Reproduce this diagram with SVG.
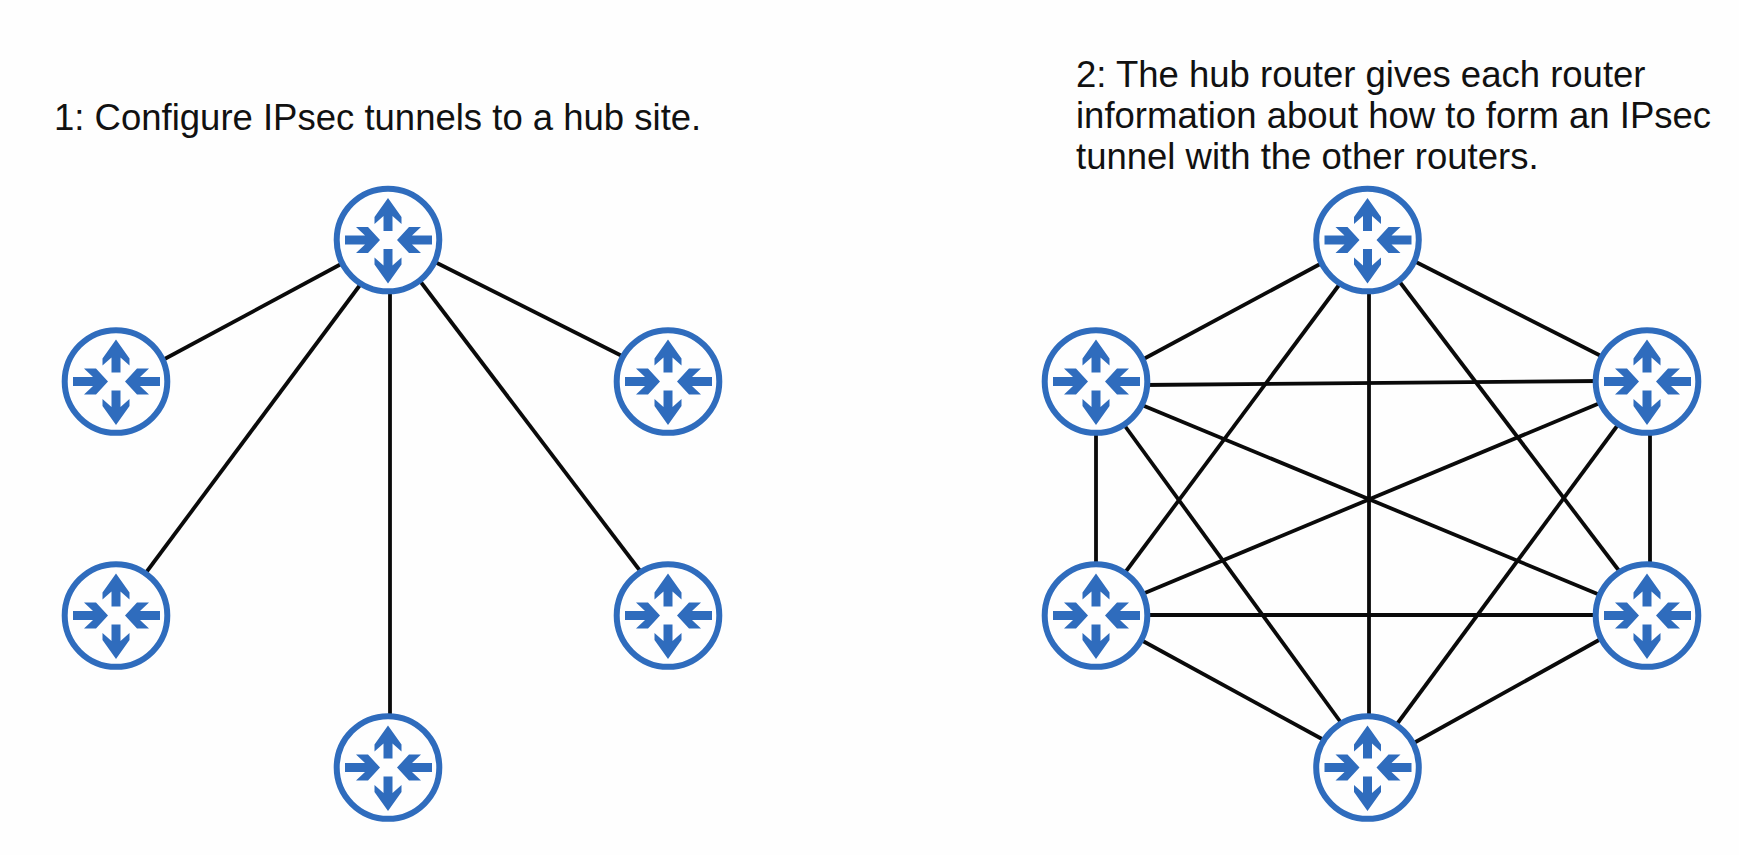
<svg xmlns="http://www.w3.org/2000/svg" width="1739" height="855" viewBox="0 0 1739 855">
<style>
.bg{fill:#fefefe}
.t{font-family:"Liberation Sans",Arial,sans-serif;font-size:36.500px;fill:#111}
.ring{fill:#fefefe;stroke:#2f6cbd;stroke-width:6}
.arr{fill:#2f6cbd}
.links line{stroke:#0a0a0a;stroke-width:3.8;fill:none}
</style>
<defs>
<g id="router">
<circle class="ring" r="51.3"/>
<path class="arr" d="M0-42 13.500-23V-16L4.500-24V-9H-4.500V-24L-13.500-16V-23Z"/>
<path class="arr" d="M0 43.500 13.500 24.500V17.500L4.500 25.500V9H-4.500V25.500L-13.500 17.500V24.500Z"/>
<path class="arr" d="M-8 0-20-13H-32L-23-4.500H-43V4.500H-23L-32 13H-20Z"/>
<path class="arr" d="M9 0 21-13H33L24-4.500H44V4.500H24L33 13H21Z"/>
</g>
</defs>
<rect class="bg" width="1739" height="855"/>
<text id="label-1" class="t" x="54" y="130">1: Configure IPsec tunnels to a hub site.</text>
<text id="label-2" class="t"><tspan x="1076" y="87">2: The hub router gives each router</tspan><tspan x="1076" y="128">information about how to form an IPsec</tspan><tspan x="1076" y="169">tunnel with the other routers.</tspan></text>
<g id="connectors" class="links">
<line x1="343" y1="263" x2="159" y2="362"/>
<line x1="363" y1="281" x2="142" y2="578"/>
<line x1="390" y1="287" x2="390" y2="720"/>
<line x1="417" y1="277" x2="644" y2="576"/>
<line x1="431" y1="260" x2="626" y2="358"/>
<line x1="1322" y1="263" x2="1138" y2="362"/>
<line x1="1342" y1="281" x2="1121" y2="578"/>
<line x1="1369" y1="287" x2="1369" y2="720"/>
<line x1="1396" y1="277" x2="1623" y2="576"/>
<line x1="1412" y1="260" x2="1605" y2="358"/>
<line x1="1142" y1="385" x2="1600" y2="381"/>
<line x1="1137" y1="403" x2="1600" y2="595"/>
<line x1="1600" y1="403" x2="1140" y2="595"/>
<line x1="1122" y1="422" x2="1342" y2="724"/>
<line x1="1620" y1="422" x2="1397" y2="724"/>
<line x1="1096" y1="429" x2="1096" y2="568"/>
<line x1="1650" y1="429" x2="1650" y2="568"/>
<line x1="1142" y1="615" x2="1600" y2="615"/>
<line x1="1141" y1="640" x2="1322" y2="739"/>
<line x1="1599" y1="640" x2="1412" y2="744"/>
</g>
<g id="hub-a"><use href="#router" x="388" y="240"/></g>
<g id="a-left-top"><use href="#router" x="116" y="381.500"/></g>
<g id="a-right-top"><use href="#router" x="668" y="381.500"/></g>
<g id="a-left-bottom"><use href="#router" x="116" y="615.500"/></g>
<g id="a-right-bottom"><use href="#router" x="668" y="615.500"/></g>
<g id="a-bottom"><use href="#router" x="388" y="767.500"/></g>
<g id="hub-b"><use href="#router" x="1367.500" y="240"/></g>
<g id="b-left-top"><use href="#router" x="1096" y="381.500"/></g>
<g id="b-right-top"><use href="#router" x="1647" y="381.500"/></g>
<g id="b-left-bottom"><use href="#router" x="1096" y="615.500"/></g>
<g id="b-right-bottom"><use href="#router" x="1647" y="615.500"/></g>
<g id="b-bottom"><use href="#router" x="1367.500" y="767.500"/></g>
</svg>
